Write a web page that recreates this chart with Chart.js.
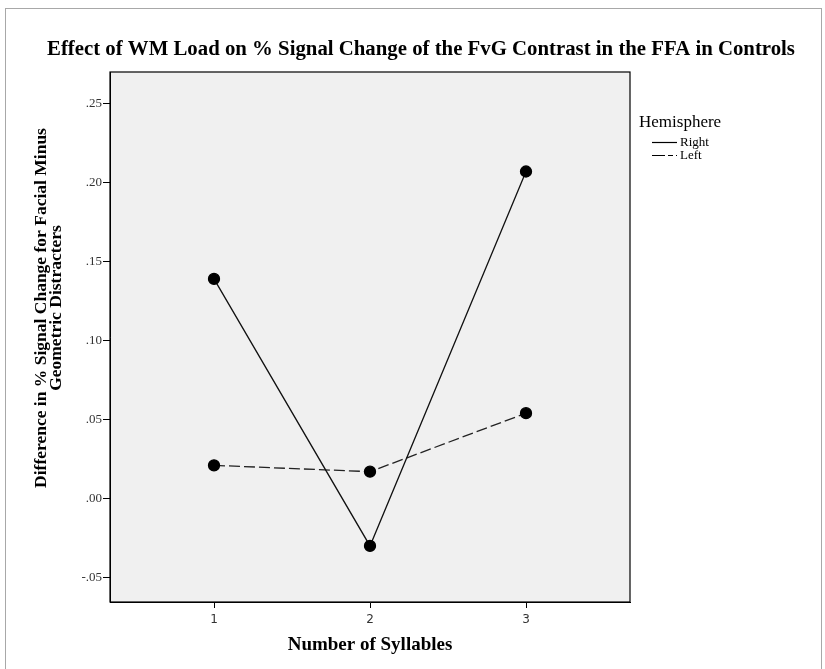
<!DOCTYPE html>
<html lang="en">
<head>
    <meta charset="UTF-8">
    <title>Effect of WM Load</title>
    <script src="https://cdn.jsdelivr.net/npm/chart.js"></script>
    <style>
        body { margin: 0; background: #fff; }
        #wrap { width: 825px; height: 669px; }
    </style>
</head>
<body>
    <div id="wrap"><canvas id="wmChart" width="825" height="669"></canvas></div>

    <script>
        // values
        var syllables = [1, 2, 3];
        var rightValues = [0.139, -0.030, 0.207];
        var leftValues = [0.021, 0.017, 0.054];
        var yTicks = [-0.05, 0, 0.05, 0.10, 0.15, 0.20, 0.25];
        var seriesNames = ['Right', 'Left'];

        var titleText = 'Effect of WM Load on % Signal Change of the FvG Contrast in the FFA in Controls';
        var yTitle = ['Difference in % Signal Change for Facial Minus', 'Geometric Distracters'];
        var xTitle = 'Number of Syllables';
        var legendTitle = 'Hemisphere';

        var serif = '"Liberation Serif", "Times New Roman", serif';

        function pts(vals) {
            return syllables.map(function(s, i) { return { x: s, y: vals[i] }; });
        }

        var decorations = {
            id: 'decorations',
            beforeDraw: function(chart) {
                var ctx = chart.ctx, a = chart.chartArea;
                ctx.save();
                ctx.fillStyle = '#fff';
                ctx.fillRect(0, 0, chart.width, chart.height);
                ctx.strokeStyle = '#a8a8a8';
                ctx.lineWidth = 1;
                ctx.strokeRect(5.5, 8.5, 816, 700);
                ctx.fillStyle = '#f0f0f0';
                ctx.fillRect(a.left, a.top, a.right - a.left, a.bottom - a.top);
                ctx.restore();
            },
            afterDraw: function(chart) {
                var ctx = chart.ctx, a = chart.chartArea;
                ctx.save();
                ctx.strokeStyle = '#000';
                ctx.lineWidth = 1.2;
                ctx.strokeRect(a.left, a.top, a.right - a.left, a.bottom - a.top);

                ctx.fillStyle = '#000';
                ctx.textAlign = 'center';
                ctx.textBaseline = 'middle';
                ctx.font = 'bold 20.8px ' + serif;
                ctx.fillText(titleText, 421, 50);

                ctx.font = 'bold 19px ' + serif;
                ctx.fillText(xTitle, (a.left + a.right) / 2, 645);

                ctx.save();
                ctx.translate(41, 308);
                ctx.rotate(-Math.PI / 2);
                ctx.font = 'bold 17.5px ' + serif;
                ctx.fillText(yTitle[0], 0, 0);
                ctx.fillText(yTitle[1], 0, 15);
                ctx.restore();

                // legend
                ctx.textAlign = 'left';
                ctx.font = '17px ' + serif;
                ctx.fillText(legendTitle, 639, 123);
                ctx.font = '13px ' + serif;
                ctx.lineWidth = 1.2;
                ctx.strokeStyle = '#000';
                ctx.beginPath();
                ctx.moveTo(652, 142.5); ctx.lineTo(677, 142.5);
                ctx.stroke();
                ctx.setLineDash([13, 3, 5, 3]);
                ctx.beginPath();
                ctx.moveTo(652, 155.5); ctx.lineTo(677, 155.5);
                ctx.stroke();
                ctx.setLineDash([]);
                ctx.fillText(seriesNames[0], 680, 143);
                ctx.fillText(seriesNames[1], 680, 156);
                ctx.restore();
            }
        };

        var ctx = document.getElementById('wmChart').getContext('2d');
        var chart = new Chart(ctx, {
            type: 'line',
            data: {
                datasets: [{
                    label: seriesNames[0],
                    data: pts(rightValues),
                    borderColor: '#111',
                    borderWidth: 1.3,
                    pointRadius: 5.5,
                    pointBackgroundColor: '#000',
                    pointBorderColor: '#000',
                    fill: false
                }, {
                    label: seriesNames[1],
                    data: pts(leftValues),
                    borderColor: '#222',
                    borderWidth: 1.3,
                    borderDash: [11, 4],
                    pointRadius: 5.5,
                    pointBackgroundColor: '#000',
                    pointBorderColor: '#000',
                    fill: false
                }]
            },
            options: {
                responsive: false,
                animation: false,
                layout: { padding: { left: 0, top: 72, right: 195, bottom: 7 } },
                plugins: {
                    legend: { display: false },
                    tooltip: { enabled: false }
                },
                scales: {
                    x: {
                        type: 'linear',
                        min: 1 / 3,
                        max: 11 / 3,
                        afterBuildTicks: function(scale) {
                            scale.ticks = syllables.map(function(v) { return { value: v }; });
                        },
                        afterFit: function(scale) { scale.height = 60; },
                        grid: { drawOnChartArea: false, drawTicks: true, tickLength: 6, color: '#000' },
                        border: { display: true, color: '#000' },
                        ticks: {
                            color: '#333',
                            font: { family: '"DejaVu Sans", sans-serif', size: 12 },
                            padding: 5,
                            callback: function(v) { return String(v); }
                        }
                    },
                    y: {
                        min: -0.0655,
                        max: 0.27,
                        afterBuildTicks: function(scale) {
                            scale.ticks = yTicks.map(function(v) { return { value: v }; });
                        },
                        afterFit: function(scale) { scale.width = 110; },
                        grid: { drawOnChartArea: false, drawTicks: true, tickLength: 7, color: '#000' },
                        border: { display: true, color: '#000' },
                        ticks: {
                            color: '#333',
                            font: { family: serif, size: 13 },
                            padding: 1,
                            callback: function(v) { return v.toFixed(2).replace('0.', '.'); }
                        }
                    }
                }
            },
            plugins: [decorations]
        });
    </script>
</body>
</html>
